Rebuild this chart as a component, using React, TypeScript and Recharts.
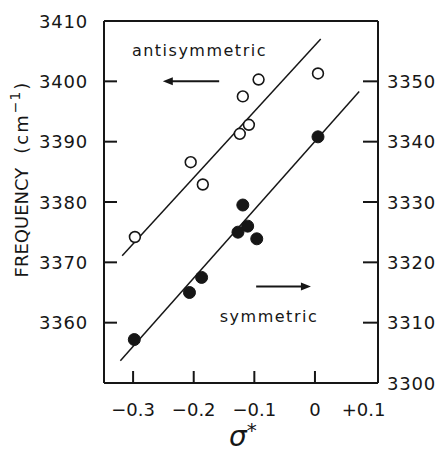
import React from 'react';
import { ComposedChart, Scatter, XAxis, YAxis, ReferenceLine, ReferenceDot } from 'recharts';

// ---- data ----
const sigmaAnti = [0.005, -0.093, -0.119, -0.109, -0.124, -0.205, -0.185, -0.297];
const freqAnti = [3401.3, 3400.3, 3397.5, 3392.8, 3391.3, 3386.6, 3382.9, 3374.2];
const sigmaSym = [0.005, -0.119, -0.111, -0.127, -0.096, -0.187, -0.207, -0.298];
const freqSym = [3340.8, 3329.5, 3326.0, 3325.0, 3323.9, 3317.5, 3315.0, 3307.2];
const antiFitSigma = [-0.318, 0.0095];
const antiFitFreq = [3371.1, 3407.0];
const symFitSigma = [-0.321, 0.073];
const symFitFreq = [3303.7, 3348.3];
const xTicks = [-0.3, -0.2, -0.1, 0, 0.1];
const xTickLabels = ['\u22120.3', '\u22120.2', '\u22120.1', '0', '+0.1'];
const leftTicks = [3360, 3370, 3380, 3390, 3400, 3410];
const rightTicks = [3300, 3310, 3320, 3330, 3340, 3350];

const antiPoints = sigmaAnti.map((s, i) => ({ x: s, y: freqAnti[i] }));
const symPoints = sigmaSym.map((s, i) => ({ x: s, y: freqSym[i] }));
const antiFit = antiFitSigma.map((s, i) => ({ x: s, y: antiFitFreq[i] }));
const symFit = symFitSigma.map((s, i) => ({ x: s, y: symFitFreq[i] }));

const INK = '#161616';
const FONT = '"DejaVu Sans", "Liberation Sans", sans-serif';

const LeftTick = (p: any) => {
  const { x, y, payload } = p;
  return (
    <g>
      <line x1={x} x2={x + 13} y1={y} y2={y} stroke={INK} strokeWidth={2} />
      <text x={x - 16} y={y} textAnchor="end" dominantBaseline="central" fontFamily={FONT} fontSize={18} letterSpacing={0.8} fill={INK}>
        {payload.value}
      </text>
    </g>
  );
};

const RightTick = (p: any) => {
  const { x, y, payload } = p;
  return (
    <g>
      {payload.value !== 3300 && <line x1={x - 15} x2={x} y1={y} y2={y} stroke={INK} strokeWidth={2} />}
      <text x={x + 9} y={y} textAnchor="start" dominantBaseline="central" fontFamily={FONT} fontSize={18} letterSpacing={0.8} fill={INK}>
        {payload.value}
      </text>
    </g>
  );
};

const BottomTick = (p: any) => {
  const { x, y, payload, index } = p;
  const i = xTicks.indexOf(payload.value);
  const last = i === xTicks.length - 1;
  return (
    <g>
      {!last && <line x1={x} x2={x} y1={y} y2={y - 12} stroke={INK} strokeWidth={2} />}
      <text x={last ? x - 12 : x} y={y + 33} textAnchor="middle" fontFamily={FONT} fontSize={18} fill={INK}>
        {xTickLabels[i >= 0 ? i : index]}
      </text>
    </g>
  );
};

const OpenDot = (p: any) => <circle cx={p.cx} cy={p.cy} r={5.4} fill="#fff" stroke={INK} strokeWidth={1.6} />;
const FilledDot = (p: any) => <circle cx={p.cx} cy={p.cy} r={6} fill={INK} stroke={INK} strokeWidth={1} />;
const NoDot = () => <g />;

const makeArrow = (head: 'start' | 'end') => (p: any) => {
  const { x1, y1, x2, y2 } = p;
  const hx = head === 'start' ? Math.min(x1, x2) : Math.max(x1, x2);
  const ox = head === 'start' ? Math.max(x1, x2) : Math.min(x1, x2);
  const d = head === 'start' ? 1 : -1;
  const y = (y1 + y2) / 2;
  return (
    <g>
      <line x1={hx + d * 5} x2={ox} y1={y} y2={y} stroke={INK} strokeWidth={2} />
      <polygon points={`${hx},${y} ${hx + d * 10},${y - 4} ${hx + d * 10},${y + 4}`} fill={INK} />
    </g>
  );
};

const makeText = (label: string) => (p: any) => (
  <text x={p.cx} y={p.cy} fontFamily={FONT} fontSize={16} letterSpacing={1.5} fill={INK}>
    {label}
  </text>
);

const YLabel = (p: any) => {
  const vb = p.viewBox || { x: 0, y: 21, width: 104, height: 362 };
  const cx = 21;
  const cy = vb.y + vb.height / 2 - 22;
  return (
    <text x={cx} y={cy} transform={`rotate(-90 ${cx} ${cy})`} textAnchor="middle" dominantBaseline="central" fontFamily={FONT} fontSize={18} fill={INK}>
      <tspan>FREQUENCY</tspan>
      <tspan dx={14} letterSpacing={2}>(cm</tspan>
      <tspan fontSize={14} dy={-6} letterSpacing={1}>{'\u22121'}</tspan>
      <tspan dy={6} dx={1}>)</tspan>
    </text>
  );
};

const XLabel = (p: any) => {
  const vb = p.viewBox || { x: 104, y: 383, width: 274, height: 71 };
  const x0 = vb.x + vb.width / 2 - 12;
  return (
    <text x={x0} y={446} fontFamily={FONT} fill={INK}>
      <tspan fontSize={28} fontStyle="italic">σ</tspan>
      <tspan fontSize={20} dy={-9}>*</tspan>
    </text>
  );
};

export default function App() {
  return (
    <div style={{ position: 'fixed', left: 0, top: 0, width: 442, height: 454, background: '#fff' }}>
      <ComposedChart width={442} height={454} margin={{ top: 21, right: 0, bottom: 0, left: 0 }}>
        <XAxis
          xAxisId="x"
          dataKey="x"
          type="number"
          domain={[-0.348, 0.104]}
          allowDataOverflow
          ticks={xTicks}
          interval={0}
          height={71}
          tickSize={0}
          tickMargin={0}
          tickLine={false}
          axisLine={{ stroke: INK, strokeWidth: 2 }}
          tick={BottomTick}
          label={{ content: XLabel }}
        />
        <YAxis
          yAxisId="left"
          orientation="left"
          dataKey="y"
          type="number"
          domain={[3350, 3410]}
          allowDataOverflow
          ticks={leftTicks}
          interval={0}
          width={104}
          tickSize={0}
          tickMargin={0}
          tickLine={false}
          axisLine={{ stroke: INK, strokeWidth: 2 }}
          tick={LeftTick}
          label={{ content: YLabel }}
        />
        <YAxis
          yAxisId="right"
          orientation="right"
          dataKey="y"
          type="number"
          domain={[3300, 3360]}
          allowDataOverflow
          ticks={rightTicks}
          interval={0}
          width={64}
          tickSize={0}
          tickMargin={0}
          tickLine={false}
          axisLine={{ stroke: INK, strokeWidth: 2 }}
          tick={RightTick}
        />
        <ReferenceLine xAxisId="x" yAxisId="left" y={3410} stroke={INK} strokeWidth={2} />
        <Scatter xAxisId="x" yAxisId="left" data={antiFit} line={{ stroke: INK, strokeWidth: 1.5 }} shape={NoDot} isAnimationActive={false} />
        <Scatter xAxisId="x" yAxisId="right" data={symFit} line={{ stroke: INK, strokeWidth: 1.5 }} shape={NoDot} isAnimationActive={false} />
        <Scatter xAxisId="x" yAxisId="left" data={antiPoints} shape={OpenDot} isAnimationActive={false} />
        <Scatter xAxisId="x" yAxisId="right" data={symPoints} shape={FilledDot} isAnimationActive={false} />
        <ReferenceDot xAxisId="x" yAxisId="left" x={-0.302} y={3404.2} r={0} shape={makeText('antisymmetric')} />
        <ReferenceLine xAxisId="x" yAxisId="left" segment={[{ x: -0.251, y: 3400 }, { x: -0.158, y: 3400 }]} shape={makeArrow('start')} />
        <ReferenceDot xAxisId="x" yAxisId="right" x={-0.157} y={3310.1} r={0} shape={makeText('symmetric')} />
        <ReferenceLine xAxisId="x" yAxisId="right" segment={[{ x: -0.097, y: 3316 }, { x: -0.0066, y: 3316 }]} shape={makeArrow('end')} />
      </ComposedChart>
    </div>
  );
}
